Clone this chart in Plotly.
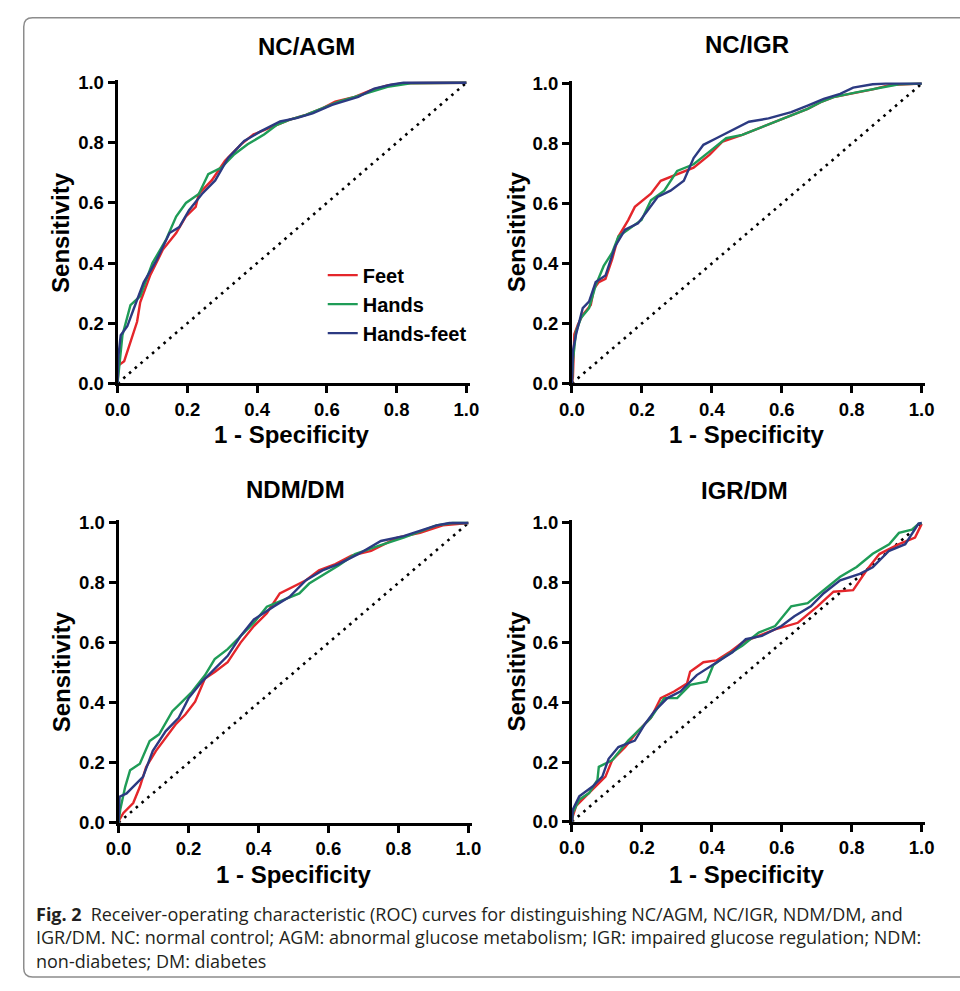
import plotly.graph_objects as go

W, H = 960, 991

# ---------------- data ----------------
series_names = ["Feet", "Hands", "Hands-feet"]
series_colors = ["#e4262b", "#1f9c57", "#2c3a82"]
panel_titles = ["NC/AGM", "NC/IGR", "NDM/DM", "IGR/DM"]
tick_vals = [0.0, 0.2, 0.4, 0.6, 0.8, 1.0]
tick_text = ["0.0", "0.2", "0.4", "0.6", "0.8", "1.0"]
diag_x = [0, 1]
diag_y = [0, 1]

# NC/AGM
agm_feet_x = [0, 0.003, 0.019, 0.037, 0.056, 0.065, 0.093, 0.13, 0.168, 0.196, 0.224, 0.233, 0.27, 0.308, 0.354, 0.39, 0.447, 0.494, 0.54, 0.587, 0.624, 0.68, 0.727, 0.774, 0.82, 1.0]
agm_feet_y = [0, 0.06, 0.074, 0.14, 0.205, 0.27, 0.358, 0.445, 0.5, 0.555, 0.587, 0.63, 0.675, 0.74, 0.795, 0.828, 0.855, 0.877, 0.893, 0.915, 0.937, 0.953, 0.975, 0.991, 0.998, 1.0]
agm_hands_x = [0, 0.005, 0.014, 0.037, 0.065, 0.1, 0.14, 0.168, 0.196, 0.233, 0.26, 0.298, 0.335, 0.373, 0.42, 0.457, 0.494, 0.54, 0.587, 0.634, 0.68, 0.727, 0.774, 0.84, 1.0]
agm_hands_y = [0, 0.052, 0.16, 0.26, 0.29, 0.4, 0.48, 0.555, 0.6, 0.63, 0.696, 0.718, 0.762, 0.795, 0.828, 0.86, 0.877, 0.893, 0.915, 0.937, 0.953, 0.97, 0.986, 0.998, 1.0]
agm_hf_x = [0, 0.002, 0.009, 0.028, 0.047, 0.075, 0.112, 0.149, 0.177, 0.205, 0.242, 0.28, 0.317, 0.363, 0.41, 0.466, 0.513, 0.559, 0.615, 0.69, 0.736, 0.783, 0.82, 1.0]
agm_hf_y = [0, 0.085, 0.16, 0.19, 0.25, 0.336, 0.41, 0.5, 0.52, 0.576, 0.63, 0.675, 0.75, 0.806, 0.838, 0.871, 0.882, 0.898, 0.926, 0.953, 0.98, 0.993, 1.0, 1.0]

# NC/IGR
igr_feet_x = [0, 0.003, 0.007, 0.017, 0.031, 0.054, 0.063, 0.077, 0.096, 0.115, 0.133, 0.161, 0.18, 0.226, 0.254, 0.301, 0.348, 0.394, 0.431, 0.487, 0.534, 0.581, 0.627, 0.674, 0.711, 0.748, 0.795, 0.86, 0.907, 1.0]
igr_feet_y = [0, 0.022, 0.164, 0.196, 0.229, 0.262, 0.316, 0.338, 0.349, 0.414, 0.49, 0.545, 0.589, 0.633, 0.676, 0.698, 0.72, 0.763, 0.807, 0.829, 0.851, 0.873, 0.895, 0.916, 0.938, 0.955, 0.966, 0.981, 0.995, 1.0]
igr_hands_x = [0, 0.003, 0.012, 0.026, 0.049, 0.068, 0.091, 0.115, 0.133, 0.161, 0.199, 0.226, 0.264, 0.301, 0.348, 0.394, 0.441, 0.487, 0.534, 0.581, 0.627, 0.674, 0.711, 0.748, 0.813, 0.888, 0.935, 1.0]
igr_hands_y = [0, 0.076, 0.174, 0.218, 0.251, 0.327, 0.392, 0.436, 0.49, 0.513, 0.545, 0.611, 0.643, 0.709, 0.731, 0.774, 0.818, 0.829, 0.851, 0.873, 0.895, 0.916, 0.938, 0.955, 0.971, 0.987, 0.998, 1.0]
igr_hf_x = [0, 0.003, 0.012, 0.031, 0.049, 0.068, 0.096, 0.124, 0.152, 0.189, 0.217, 0.245, 0.282, 0.32, 0.348, 0.376, 0.413, 0.45, 0.506, 0.562, 0.627, 0.674, 0.72, 0.767, 0.804, 0.86, 0.897, 1.0]
igr_hf_y = [0, 0.109, 0.164, 0.251, 0.273, 0.338, 0.36, 0.458, 0.513, 0.534, 0.578, 0.622, 0.643, 0.676, 0.752, 0.796, 0.818, 0.84, 0.873, 0.884, 0.905, 0.927, 0.949, 0.966, 0.987, 0.998, 1.0, 1.0]

# NDM/DM
ndm_feet_x = [0, 0.003, 0.014, 0.042, 0.061, 0.079, 0.107, 0.135, 0.163, 0.191, 0.219, 0.247, 0.275, 0.312, 0.349, 0.387, 0.424, 0.461, 0.499, 0.536, 0.573, 0.62, 0.666, 0.722, 0.797, 0.862, 0.927, 1.0]
ndm_feet_y = [0, 0.011, 0.033, 0.066, 0.12, 0.186, 0.24, 0.284, 0.328, 0.361, 0.404, 0.481, 0.503, 0.536, 0.601, 0.656, 0.699, 0.765, 0.787, 0.809, 0.842, 0.863, 0.891, 0.907, 0.951, 0.967, 0.992, 1.0]
ndm_hands_x = [0, 0.005, 0.019, 0.033, 0.061, 0.089, 0.116, 0.154, 0.182, 0.21, 0.247, 0.275, 0.312, 0.349, 0.387, 0.424, 0.471, 0.517, 0.545, 0.592, 0.629, 0.676, 0.741, 0.815, 0.909, 0.955, 1.0]
ndm_hands_y = [0, 0.044, 0.12, 0.175, 0.197, 0.273, 0.295, 0.372, 0.404, 0.437, 0.492, 0.546, 0.579, 0.623, 0.667, 0.721, 0.743, 0.765, 0.798, 0.831, 0.858, 0.896, 0.923, 0.951, 0.992, 1.0, 1.0]
ndm_hf_x = [0, 0.003, 0.023, 0.051, 0.07, 0.098, 0.135, 0.172, 0.2, 0.238, 0.275, 0.312, 0.349, 0.387, 0.443, 0.489, 0.536, 0.583, 0.629, 0.685, 0.75, 0.815, 0.909, 0.946, 1.0]
ndm_hf_y = [0, 0.087, 0.098, 0.131, 0.153, 0.24, 0.306, 0.35, 0.415, 0.47, 0.514, 0.557, 0.623, 0.678, 0.721, 0.754, 0.809, 0.842, 0.863, 0.896, 0.94, 0.956, 0.992, 1.0, 1.0]

# IGR/DM
dm_feet_x = [0, 0.003, 0.012, 0.04, 0.068, 0.096, 0.115, 0.152, 0.189, 0.226, 0.254, 0.292, 0.329, 0.338, 0.376, 0.413, 0.45, 0.487, 0.534, 0.581, 0.646, 0.702, 0.748, 0.804, 0.842, 0.879, 0.935, 0.981, 1.0]
dm_feet_y = [0, 0.02, 0.053, 0.085, 0.118, 0.151, 0.206, 0.25, 0.304, 0.348, 0.414, 0.436, 0.463, 0.502, 0.534, 0.54, 0.567, 0.6, 0.622, 0.644, 0.666, 0.721, 0.77, 0.775, 0.841, 0.896, 0.929, 0.951, 0.997]
dm_hands_x = [0, 0.003, 0.021, 0.049, 0.073, 0.077, 0.115, 0.161, 0.199, 0.226, 0.264, 0.301, 0.338, 0.385, 0.404, 0.441, 0.487, 0.534, 0.581, 0.627, 0.674, 0.72, 0.767, 0.814, 0.86, 0.907, 0.935, 0.972, 0.991, 1.0]
dm_hands_y = [0, 0.031, 0.074, 0.096, 0.14, 0.184, 0.206, 0.272, 0.315, 0.348, 0.414, 0.414, 0.458, 0.469, 0.524, 0.556, 0.589, 0.633, 0.655, 0.721, 0.732, 0.776, 0.82, 0.853, 0.897, 0.929, 0.967, 0.978, 0.997, 1.0]
dm_hf_x = [0, 0.003, 0.021, 0.059, 0.087, 0.105, 0.133, 0.18, 0.208, 0.236, 0.273, 0.31, 0.357, 0.413, 0.459, 0.497, 0.543, 0.599, 0.636, 0.683, 0.72, 0.767, 0.823, 0.86, 0.907, 0.953, 0.981, 0.991, 1.0]
dm_hf_y = [0, 0.042, 0.085, 0.118, 0.151, 0.211, 0.25, 0.272, 0.326, 0.37, 0.414, 0.436, 0.491, 0.534, 0.567, 0.611, 0.622, 0.655, 0.688, 0.721, 0.765, 0.808, 0.83, 0.852, 0.907, 0.929, 0.978, 0.998, 1.0]

caption_lines = [
    "<b>Fig. 2</b>\u2002Receiver-operating characteristic (ROC) curves for distinguishing NC/AGM, NC/IGR, NDM/DM, and",
    "IGR/DM. NC: normal control; AGM: abnormal glucose metabolism; IGR: impaired glucose regulation; NDM:",
    "non-diabetes; DM: diabetes",
]

panels = [
    [(agm_feet_x, agm_feet_y), (agm_hands_x, agm_hands_y), (agm_hf_x, agm_hf_y)],
    [(igr_feet_x, igr_feet_y), (igr_hands_x, igr_hands_y), (igr_hf_x, igr_hf_y)],
    [(ndm_feet_x, ndm_feet_y), (ndm_hands_x, ndm_hands_y), (ndm_hf_x, ndm_hf_y)],
    [(dm_feet_x, dm_feet_y), (dm_hands_x, dm_hands_y), (dm_hf_x, dm_hf_y)],
]

# ---------------- layout geometry (pixels) ----------------
# (x of 0, x of 1, y of 0, y of 1)
geom = [
    (107, 464, 383, 77),
    (572, 930, 383, 78),
    (108, 466, 830, 525),
    (572, 930, 829, 525),
]
RMAX = 1.01
title_pos = [(300, 40), (751, 38), (289, 491), (749, 492)]
xtitle_pos = [(285, 435), (751, 435), (287, 883), (751, 883)]
ytitle_pos = [(48, 229), (515, 229), (50, 676), (515, 676)]

FONT = "Liberation Sans, Arial, sans-serif"

def px(x):
    return x / W

def py(y):
    return 1 - y / H

fig = go.Figure()
layout = dict(
    width=W, height=H,
    margin=dict(l=0, r=0, t=0, b=0),
    paper_bgcolor="white", plot_bgcolor="white",
    font=dict(family=FONT, color="black"),
    showlegend=True,
)

for i, (series, (x0, x1, y0, y1)) in enumerate(zip(panels, geom)):
    n = "" if i == 0 else str(i + 1)
    xa, ya = "x" + n, "y" + n
    fig.add_trace(go.Scatter(
        x=diag_x, y=diag_y, mode="lines", xaxis=xa, yaxis=ya,
        line=dict(color="black", width=2.6, dash="2.6px,5px"),
        showlegend=False, hoverinfo="skip"))
    for k, (sx, sy) in enumerate(series):
        fig.add_trace(go.Scatter(
            x=sx, y=sy, mode="lines", xaxis=xa, yaxis=ya,
            name=series_names[k],
            line=dict(color=series_colors[k], width=2.4),
            showlegend=(i == 0), legendgroup=series_names[k]))
    xr = x0 + RMAX * (x1 - x0)
    yr = y0 + RMAX * (y1 - y0)
    common = dict(
        range=[0, RMAX], showgrid=False, zeroline=False,
        showline=True, linecolor="black", linewidth=3,
        ticks="outside", ticklen=7, tickwidth=3, tickcolor="black",
        tickvals=tick_vals, ticktext=tick_text,
        tickfont=dict(family=FONT, size=18.5, color="black", weight="bold"),
        fixedrange=True,
    )
    layout["xaxis" + n] = dict(common, domain=[px(x0), px(xr)], anchor=ya)
    layout["yaxis" + n] = dict(common, domain=[py(y0), py(yr)], anchor=xa)

annotations = []
for i in range(4):
    tx, ty = title_pos[i]
    annotations.append(dict(
        text="<b>%s</b>" % panel_titles[i], x=px(tx), y=py(ty),
        xref="paper", yref="paper", showarrow=False,
        xanchor="center", yanchor="middle",
        font=dict(family=FONT, size=24, color="black")))
    tx, ty = xtitle_pos[i]
    annotations.append(dict(
        text="<b>1 - Specificity</b>", x=px(tx), y=py(ty),
        xref="paper", yref="paper", showarrow=False,
        xanchor="center", yanchor="middle",
        font=dict(family=FONT, size=24, color="black")))
    tx, ty = ytitle_pos[i]
    annotations.append(dict(
        text="<b>Sensitivity</b>", x=px(tx), y=py(ty), textangle=-90,
        xref="paper", yref="paper", showarrow=False,
        xanchor="center", yanchor="middle",
        font=dict(family=FONT, size=24, color="black")))

# caption as one multi-line block (middle line centred near y = 947 px)
annotations.append(dict(
    text="<br>".join(caption_lines), x=px(22), y=py(947),
    xref="paper", yref="paper", showarrow=False,
    xanchor="left", yanchor="middle", align="left",
    font=dict(family="Open Sans, Noto Sans, sans-serif", size=18, color="#231f20")))

layout["annotations"] = annotations

# rounded frame (left/top/bottom)
r = 9
path = (
    f"M {px(975)},{py(11)} L {px(11 + r)},{py(11)} "
    f"Q {px(11)},{py(11)} {px(11)},{py(11 + r)} "
    f"L {px(11)},{py(987 - r)} "
    f"Q {px(11)},{py(987)} {px(11 + r)},{py(987)} "
    f"L {px(975)},{py(987)}"
)
layout["shapes"] = [dict(type="path", path=path, xref="paper", yref="paper",
                         line=dict(color="#8c8c8c", width=1.5), layer="below")]

layout["legend"] = dict(
    x=px(317), y=py(253), xanchor="left", yanchor="top",
    bgcolor="rgba(0,0,0,0)", borderwidth=0,
    font=dict(family=FONT, size=20, color="black", weight="bold"),
    tracegroupgap=0, itemwidth=30,
)

fig.update_layout(**layout)
fig.write_html(
    "out.html",
    config={"displayModeBar": False},
    post_script="document.body.style.margin='0';document.body.style.padding='0';"
                "document.documentElement.style.overflow='hidden';",
)
